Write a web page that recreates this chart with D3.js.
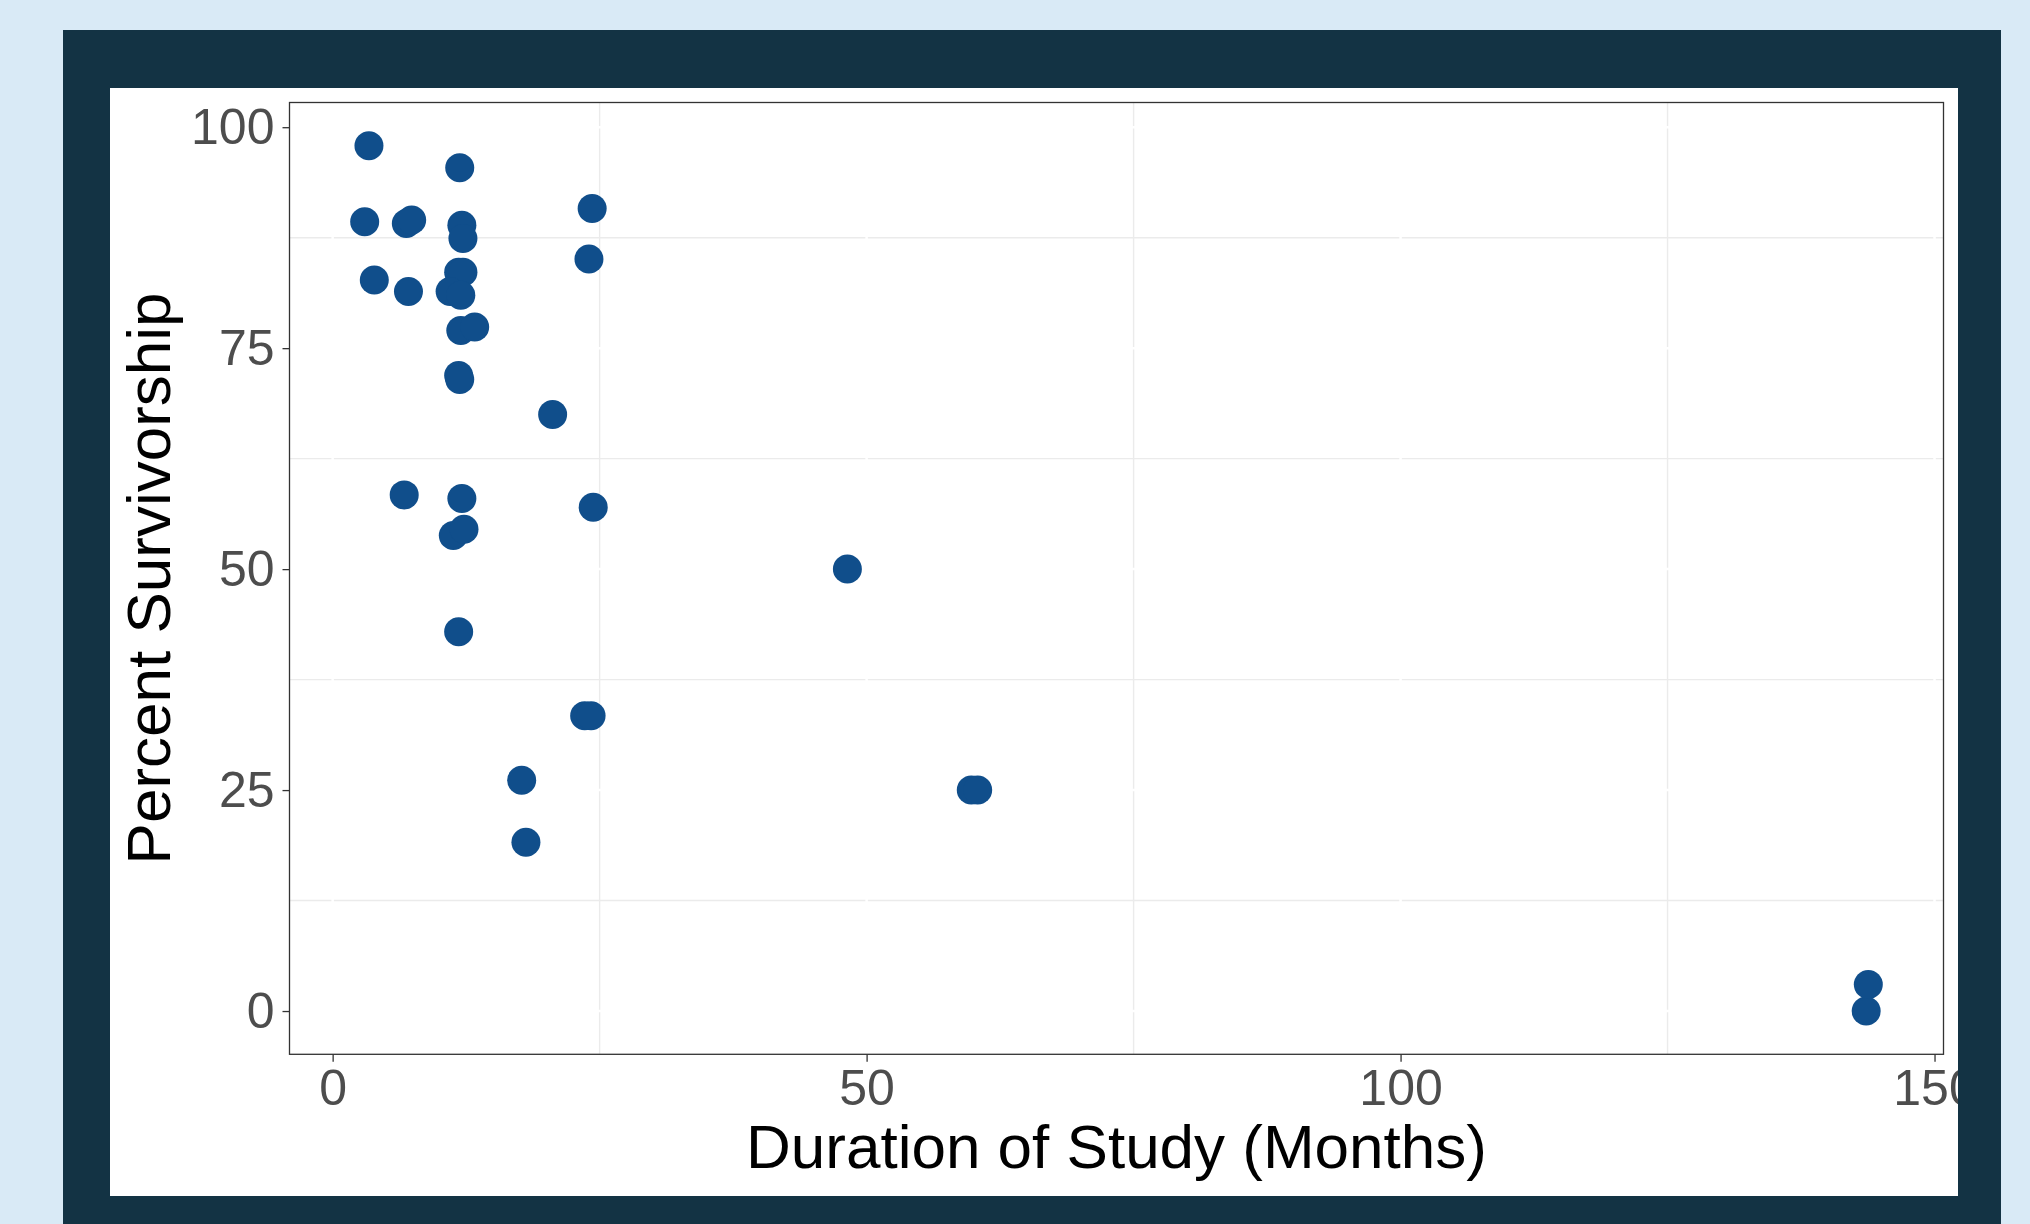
<!DOCTYPE html>
<html>
<head>
<meta charset="utf-8">
<script src="https://cdn.jsdelivr.net/npm/d3@7"></script>
<style>
  body { margin: 0; background: #d9eaf6; }
  #chart text { font-family: "Liberation Sans", Arial, sans-serif; }
</style>
</head>
<body>
<div id="chart"></div>
<script>
// study duration (months) and survivorship (%)
const durationMonths = [3.4, 11.9, 3.0, 6.9, 7.4, 12.1, 12.2, 3.9, 7.1, 11.8, 12.2, 11.0,
                        12.0, 12.0, 13.3, 11.8, 11.9, 12.1, 11.3, 12.3, 11.8, 6.7, 24.3, 24.0,
                        20.6, 24.4, 23.6, 24.2, 17.7, 18.1, 48.2, 59.8, 60.4, 143.6, 143.8];
const percentSurvival = [97.9, 95.4, 89.3, 89.1, 89.5, 88.9, 87.4, 82.7, 81.4, 83.6, 83.6, 81.4,
                         81.0, 77.0, 77.4, 71.9, 71.45, 58.0, 53.8, 54.5, 42.9, 58.4, 90.8, 85.1,
                         67.5, 57.0, 33.4, 33.4, 26.1, 19.1, 50.0, 25.0, 25.0, 0.0, 3.0];

const xTicks = [0, 50, 100, 150];
const yTicks = [0, 25, 50, 75, 100];
const xMinor = [25, 75, 125];
const yMinor = [12.5, 37.5, 62.5, 87.5];

const xTitle = "Duration of Study (Months)";
const yTitle = "Percent Survivorship";

const width = 2030, height = 1224;
const panel = { left: 289.5, right: 1943.5, top: 102.5, bottom: 1054.3 };

// ggplot style 5% expansion
function expand([lo, hi]) {
    const pad = (hi - lo) * 0.05;
    return [lo - pad, hi + pad];
}

const points = durationMonths.map((d, i) => ({ x: d, y: percentSurvival[i] }));

const svg = d3.select("#chart")
              .append("svg")
              .attr("width", width)
              .attr("height", height);

// outer frame
svg.append("rect")
   .attr("x", 63).attr("y", 30)
   .attr("width", 2001 - 63).attr("height", height - 30)
   .attr("fill", "#133344");

svg.append("rect")
   .attr("x", 110).attr("y", 88)
   .attr("width", 1958 - 110).attr("height", 1196 - 88)
   .attr("fill", "#ffffff");

svg.append("clipPath").attr("id", "card")
   .append("rect")
   .attr("x", 110).attr("y", 88)
   .attr("width", 1958 - 110).attr("height", 1196 - 88);

const g = svg.append("g").attr("clip-path", "url(#card)");

const x = d3.scaleLinear().domain(expand(d3.extent(durationMonths))).range([panel.left, panel.right]);
const y = d3.scaleLinear().domain(expand(d3.extent(percentSurvival))).range([panel.bottom, panel.top]);

// minor grid (grey), major grid drawn white on top
const grid = g.append("g");
grid.selectAll(".vminor").data(xMinor).join("line")
    .attr("x1", d => x(d)).attr("x2", d => x(d))
    .attr("y1", panel.top).attr("y2", panel.bottom)
    .attr("stroke", "#ebebeb").attr("stroke-width", 1.4);
grid.selectAll(".hminor").data(yMinor).join("line")
    .attr("x1", panel.left).attr("x2", panel.right)
    .attr("y1", d => y(d)).attr("y2", d => y(d))
    .attr("stroke", "#ebebeb").attr("stroke-width", 1.4);
grid.selectAll(".vmajor").data(xTicks.filter(d => x(d) < panel.right)).join("line")
    .attr("x1", d => x(d)).attr("x2", d => x(d))
    .attr("y1", panel.top).attr("y2", panel.bottom)
    .attr("stroke", "#ffffff").attr("stroke-width", 2.5);
grid.selectAll(".hmajor").data(yTicks).join("line")
    .attr("x1", panel.left).attr("x2", panel.right)
    .attr("y1", d => y(d)).attr("y2", d => y(d))
    .attr("stroke", "#ffffff").attr("stroke-width", 2.5);

// points
g.append("g")
 .selectAll("circle")
 .data(points)
 .join("circle")
 .attr("cx", d => x(d.x))
 .attr("cy", d => y(d.y))
 .attr("r", 14.5)
 .attr("fill", "#104e8b");

// panel border
g.append("rect")
 .attr("x", panel.left).attr("y", panel.top)
 .attr("width", panel.right - panel.left).attr("height", panel.bottom - panel.top)
 .attr("fill", "none")
 .attr("stroke", "#333333")
 .attr("stroke-width", 1.3);

// axes
const xAxis = g.append("g")
               .attr("transform", `translate(0,${panel.bottom})`)
               .call(d3.axisBottom(x).tickValues(xTicks).tickSize(7.5).tickPadding(8));
const yAxis = g.append("g")
               .attr("transform", `translate(${panel.left},0)`)
               .call(d3.axisLeft(y).tickValues(yTicks).tickSize(7).tickPadding(8));

[xAxis, yAxis].forEach(ax => {
    ax.select(".domain").remove();
    ax.selectAll(".tick line").attr("stroke", "#333333").attr("stroke-width", 1.3);
    ax.selectAll(".tick text")
      .attr("fill", "#4d4d4d")
      .style("font-size", "50px");
});

// axis titles
g.append("text")
 .attr("x", (panel.left + panel.right) / 2)
 .attr("y", 1168)
 .attr("text-anchor", "middle")
 .attr("fill", "#000000")
 .style("font-size", "62px")
 .text(xTitle);

g.append("text")
 .attr("transform", `translate(170,${(panel.top + panel.bottom) / 2}) rotate(-90)`)
 .attr("text-anchor", "middle")
 .attr("fill", "#000000")
 .style("font-size", "62px")
 .text(yTitle);
</script>
</body>
</html>
